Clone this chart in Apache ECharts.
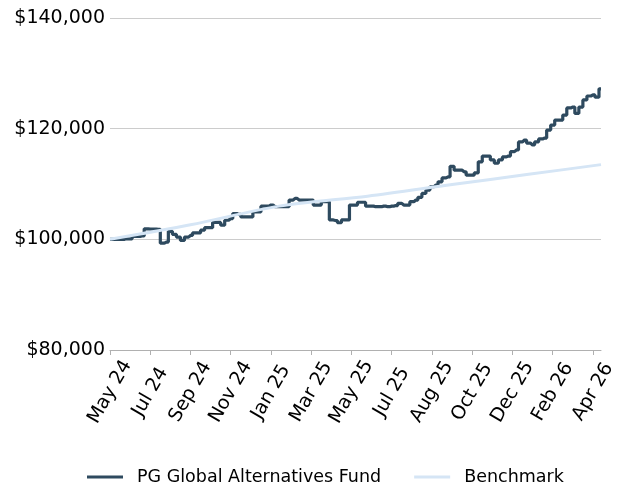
<!DOCTYPE html>
<html>
<head>
<meta charset="utf-8">
<script src="https://cdn.jsdelivr.net/npm/echarts@6/dist/echarts.min.js"></script>
<style>html,body{margin:0;padding:0;background:#fff}#c{width:638px;height:486px}</style>
</head>
<body>
<div id="c"></div>
<script>
// Tick labels, one every 10 points
const tickLabels = ["May 24","Jul 24","Sep 24","Nov 24","Jan 25","Mar 25","May 25","Jul 25","Aug 25","Oct 25","Dec 25","Feb 26","Apr 26"];
// PG Global Alternatives Fund (growth of $100,000), 123 points
const fund = [
100000,100000,100000,100000,100100,100100,100550,100550,100600,101900,
101850,101850,101800,99300,99500,101450,100900,100400,99800,100400,
100700,101150,101150,101650,102100,102100,103050,103050,102550,103450,
103750,104650,104500,104050,104050,104050,104950,104950,106000,106000,
106200,105900,105900,105900,105900,107100,107400,107100,107100,107100,
107100,106200,106200,106800,106800,103500,103400,103000,103500,103500,
106200,106200,106700,106700,106000,106000,105900,105900,106000,105900,
106000,106100,106500,106200,106200,106800,107100,107600,108300,108900,
109500,109800,110400,111100,111300,113200,112500,112500,112200,111600,
111600,112000,114000,115050,115050,114350,113750,114350,114900,115050,
115850,116150,117600,117950,117400,117050,117600,118150,118300,119750,
120650,121550,121550,122450,123750,123900,122750,123900,125200,125900,
126100,125700,127200
];
// Benchmark readings [point index, value]
const benchmark = [[0,100000],[20,102620],[42,106000],[64,107800],[85,109900],[104,111750],[122,113500]];
const categories = fund.map((_, i) => String(i));

const FONT = 'DejaVu Sans';
const chart = echarts.init(document.getElementById('c'), null, {renderer: 'canvas'});
chart.setOption({
  animation: false,
  grid: {left: 110, right: 37, top: 18, bottom: 136, containLabel: false},
  xAxis: {
    type: 'category',
    data: categories,
    boundaryGap: false,
    axisLine: {show: true, lineStyle: {color: '#b0b0b0', width: 1}},
    axisTick: {show: true, interval: 9, length: 5, lineStyle: {color: '#b0b0b0'}},
    axisLabel: {
      interval: 9, rotate: 60, align: 'center', verticalAlign: 'middle', margin: 42,
      fontFamily: FONT, fontSize: 19, color: '#000',
      formatter: (v, i) => (i % 10 === 0 ? tickLabels[i / 10] : '')
    },
    splitLine: {show: false}
  },
  yAxis: {
    type: 'value', min: 80000, max: 140000, interval: 20000,
    axisLine: {show: false}, axisTick: {show: false},
    axisLabel: {
      margin: 5, fontFamily: FONT, fontSize: 19, color: '#000',
      formatter: v => '$' + v.toLocaleString('en-US')
    },
    splitLine: {show: true, lineStyle: {color: '#cccccc', width: 1}}
  },
  legend: {
    left: 87, top: 468, padding: 0, itemGap: 33, itemWidth: 36, itemHeight: 3,
    icon: 'rect',
    textStyle: {fontFamily: FONT, fontSize: 17.5, color: '#000', padding: [0, 0, 0, 9]},
    data: ['PG Global Alternatives Fund', 'Benchmark']
  },
  series: [
    {
      name: 'PG Global Alternatives Fund', type: 'line', data: fund, step: 'middle',
      symbol: 'none', lineStyle: {color: '#2E4A5F', width: 3.2}, itemStyle: {color: '#2E4A5F'}
    },
    {
      name: 'Benchmark', type: 'line', data: benchmark, smooth: 0.3,
      symbol: 'none', lineStyle: {color: '#D5E5F5', width: 3}, itemStyle: {color: '#D5E5F5'}
    }
  ]
});
</script>
</body>
</html>
